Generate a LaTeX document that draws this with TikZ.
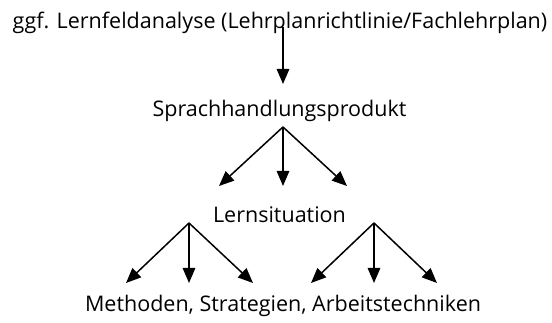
\documentclass[tikz,border=0pt]{standalone}
\usepackage{fontspec}
\setmainfont{Open Sans}
\usetikzlibrary{arrows.meta}

\begin{document}
\begin{tikzpicture}[x=1pt,y=-1pt,
  >={Triangle[length=15pt,width=12.5pt]},
  line width=1.5pt,
  every node/.style={font=\fontsize{21.5}{26}\selectfont,inner sep=0pt,anchor=base}]
\useasboundingbox (0,0) rectangle (552,323);
\node (ana) at (280,29) {ggf. Lernfeldanalyse (Lehrplanrichtlinie/Fachlehrplan)};
\node (spr) at (279.5,117) {Sprachhandlungsprodukt};
\node (ls) at (279.5,223) {Lernsituation};
\node (met) at (283,312) {Methoden, Strategien, Arbeitstechniken};
% arrow ends
\coordinate (a0) at (283,27);
\coordinate (a1) at (283,84);
\coordinate (s0) at (283,127);
\coordinate (s1) at (219,186);
\coordinate (s2) at (283,186);
\coordinate (s3) at (347,186);
\coordinate (l0) at (189,223);
\coordinate (l1) at (126,283);
\coordinate (l2) at (189,283);
\coordinate (l3) at (253,283);
\coordinate (r0) at (374,223);
\coordinate (r1) at (311,283);
\coordinate (r2) at (374,283);
\coordinate (r3) at (437,283);
\path[->]
(a0) edge (a1)
(s0) edge (s1)
     edge (s2)
     edge (s3)
(l0) edge (l1)
     edge (l2)
     edge (l3)
(r0) edge (r1)
     edge (r2)
     edge (r3);
\end{tikzpicture}
\end{document}
